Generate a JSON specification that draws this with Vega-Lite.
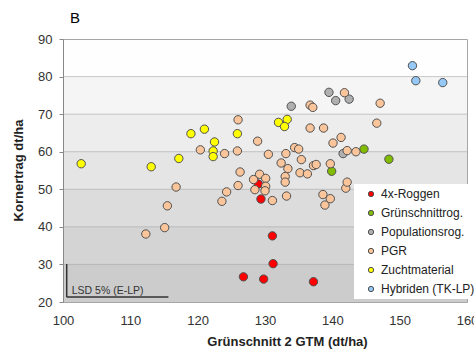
{
  "$schema": "https://vega.github.io/schema/vega-lite/v6.json",
  "width": 404,
  "height": 263,
  "autosize": {"type": "none"},
  "padding": {"left": 63, "top": 39, "right": 7, "bottom": 50},
  "title": {"text": "B", "anchor": "start", "frame": "group", "dx": 7, "offset": 7, "fontSize": 15, "fontWeight": "normal", "font": "Liberation Sans", "color": "#000000"},
  "config": {
    "font": "Liberation Sans",
    "view": {"stroke": "#a6a6a6", "fill": "#ffffff"}
  },
  "datasets": {
    "points": [
      {"gruppe": "4x-Roggen", "gtm": 126.8, "ertrag": 26.7},
      {"gruppe": "4x-Roggen", "gtm": 129.8, "ertrag": 26.1},
      {"gruppe": "4x-Roggen", "gtm": 137.2, "ertrag": 25.4},
      {"gruppe": "4x-Roggen", "gtm": 131.2, "ertrag": 30.2},
      {"gruppe": "4x-Roggen", "gtm": 131.1, "ertrag": 37.6},
      {"gruppe": "4x-Roggen", "gtm": 129.4, "ertrag": 47.4},
      {"gruppe": "4x-Roggen", "gtm": 129.0, "ertrag": 51.4},
      {"gruppe": "Grünschnittrog.", "gtm": 139.9, "ertrag": 54.8},
      {"gruppe": "Grünschnittrog.", "gtm": 144.7, "ertrag": 60.7},
      {"gruppe": "Grünschnittrog.", "gtm": 148.4, "ertrag": 58.0},
      {"gruppe": "Populationsrog.", "gtm": 139.5, "ertrag": 75.8},
      {"gruppe": "Populationsrog.", "gtm": 140.5, "ertrag": 73.6},
      {"gruppe": "Populationsrog.", "gtm": 142.5, "ertrag": 74.0},
      {"gruppe": "Populationsrog.", "gtm": 133.9, "ertrag": 72.1},
      {"gruppe": "Populationsrog.", "gtm": 141.6, "ertrag": 59.5},
      {"gruppe": "PGR", "gtm": 112.3, "ertrag": 38.1},
      {"gruppe": "PGR", "gtm": 115.1, "ertrag": 39.8},
      {"gruppe": "PGR", "gtm": 115.5, "ertrag": 45.6},
      {"gruppe": "PGR", "gtm": 116.8, "ertrag": 50.6},
      {"gruppe": "PGR", "gtm": 120.4, "ertrag": 60.5},
      {"gruppe": "PGR", "gtm": 123.6, "ertrag": 46.8},
      {"gruppe": "PGR", "gtm": 124.3, "ertrag": 49.3},
      {"gruppe": "PGR", "gtm": 124.0, "ertrag": 59.5},
      {"gruppe": "PGR", "gtm": 125.9, "ertrag": 60.2},
      {"gruppe": "PGR", "gtm": 126.0, "ertrag": 68.5},
      {"gruppe": "PGR", "gtm": 126.0, "ertrag": 51.0},
      {"gruppe": "PGR", "gtm": 126.3, "ertrag": 54.6},
      {"gruppe": "PGR", "gtm": 128.3, "ertrag": 52.6},
      {"gruppe": "PGR", "gtm": 128.5, "ertrag": 49.9},
      {"gruppe": "PGR", "gtm": 128.9, "ertrag": 62.8},
      {"gruppe": "PGR", "gtm": 129.2, "ertrag": 54.0},
      {"gruppe": "PGR", "gtm": 130.1, "ertrag": 52.9},
      {"gruppe": "PGR", "gtm": 130.1, "ertrag": 50.8},
      {"gruppe": "PGR", "gtm": 130.0, "ertrag": 49.6},
      {"gruppe": "PGR", "gtm": 130.5, "ertrag": 59.3},
      {"gruppe": "PGR", "gtm": 131.1, "ertrag": 47.0},
      {"gruppe": "PGR", "gtm": 132.4, "ertrag": 57.0},
      {"gruppe": "PGR", "gtm": 133.4, "ertrag": 55.5},
      {"gruppe": "PGR", "gtm": 133.0, "ertrag": 53.4},
      {"gruppe": "PGR", "gtm": 133.0, "ertrag": 51.9},
      {"gruppe": "PGR", "gtm": 133.2, "ertrag": 48.2},
      {"gruppe": "PGR", "gtm": 133.1, "ertrag": 59.5},
      {"gruppe": "PGR", "gtm": 134.4, "ertrag": 61.1},
      {"gruppe": "PGR", "gtm": 135.0, "ertrag": 60.7},
      {"gruppe": "PGR", "gtm": 135.4, "ertrag": 57.9},
      {"gruppe": "PGR", "gtm": 135.2, "ertrag": 54.4},
      {"gruppe": "PGR", "gtm": 136.3, "ertrag": 54.1},
      {"gruppe": "PGR", "gtm": 137.2, "ertrag": 56.3},
      {"gruppe": "PGR", "gtm": 137.6, "ertrag": 56.6},
      {"gruppe": "PGR", "gtm": 139.7, "ertrag": 56.8},
      {"gruppe": "PGR", "gtm": 138.6, "ertrag": 48.6},
      {"gruppe": "PGR", "gtm": 139.7, "ertrag": 47.5},
      {"gruppe": "PGR", "gtm": 138.9, "ertrag": 45.8},
      {"gruppe": "PGR", "gtm": 142.0, "ertrag": 50.3},
      {"gruppe": "PGR", "gtm": 142.2, "ertrag": 51.9},
      {"gruppe": "PGR", "gtm": 140.1, "ertrag": 62.3},
      {"gruppe": "PGR", "gtm": 141.3, "ertrag": 63.8},
      {"gruppe": "PGR", "gtm": 142.2, "ertrag": 60.3},
      {"gruppe": "PGR", "gtm": 143.5, "ertrag": 60.0},
      {"gruppe": "PGR", "gtm": 141.8, "ertrag": 75.7},
      {"gruppe": "PGR", "gtm": 136.7, "ertrag": 72.4},
      {"gruppe": "PGR", "gtm": 137.1, "ertrag": 71.8},
      {"gruppe": "PGR", "gtm": 147.1, "ertrag": 72.9},
      {"gruppe": "PGR", "gtm": 136.7, "ertrag": 66.3},
      {"gruppe": "PGR", "gtm": 138.7, "ertrag": 66.3},
      {"gruppe": "PGR", "gtm": 146.6, "ertrag": 67.6},
      {"gruppe": "Zuchtmaterial", "gtm": 102.7, "ertrag": 56.8},
      {"gruppe": "Zuchtmaterial", "gtm": 113.1, "ertrag": 56.0},
      {"gruppe": "Zuchtmaterial", "gtm": 117.2, "ertrag": 58.2},
      {"gruppe": "Zuchtmaterial", "gtm": 119.0, "ertrag": 64.8},
      {"gruppe": "Zuchtmaterial", "gtm": 121.0, "ertrag": 66.0},
      {"gruppe": "Zuchtmaterial", "gtm": 122.5, "ertrag": 62.6},
      {"gruppe": "Zuchtmaterial", "gtm": 122.3, "ertrag": 60.2},
      {"gruppe": "Zuchtmaterial", "gtm": 122.3, "ertrag": 58.7},
      {"gruppe": "Zuchtmaterial", "gtm": 125.9, "ertrag": 64.8},
      {"gruppe": "Zuchtmaterial", "gtm": 132.0, "ertrag": 67.8},
      {"gruppe": "Zuchtmaterial", "gtm": 133.3, "ertrag": 68.6},
      {"gruppe": "Zuchtmaterial", "gtm": 132.9, "ertrag": 66.7},
      {"gruppe": "Hybriden (TK-LP)", "gtm": 151.9, "ertrag": 82.9},
      {"gruppe": "Hybriden (TK-LP)", "gtm": 152.4, "ertrag": 78.9},
      {"gruppe": "Hybriden (TK-LP)", "gtm": 156.4, "ertrag": 78.4}
    ],
    "bands": [
      {"ertrag": 20, "ertrag2": 30},
      {"ertrag": 30, "ertrag2": 40},
      {"ertrag": 40, "ertrag2": 50},
      {"ertrag": 50, "ertrag2": 60},
      {"ertrag": 60, "ertrag2": 70},
      {"ertrag": 70, "ertrag2": 80},
      {"ertrag": 80, "ertrag2": 90}
    ],
    "grid": [
      {"ertrag": 30}, {"ertrag": 40}, {"ertrag": 50}, {"ertrag": 60}, {"ertrag": 70}, {"ertrag": 80}
    ],
    "lsd": [
      {"gtm": 100.55, "gtm2": 100.55, "ertrag": 21.3, "ertrag2": 30.1},
      {"gtm": 100.55, "gtm2": 115.65, "ertrag": 21.3, "ertrag2": 21.3}
    ],
    "lsdlabel": [
      {"gtm": 101.3, "ertrag": 22.2, "label": "LSD 5% (E-LP)"}
    ]
  },
  "encoding": {
    "x": {
      "field": "gtm", "type": "quantitative",
      "scale": {"domain": [100, 160], "nice": false, "zero": false},
      "axis": {"values": [100, 110, 120, 130, 140, 150, 160], "labelOverlap": false, "grid": false, "ticks": false, "domain": false, "labelPadding": 12, "labelFontSize": 13, "labelColor": "#333333", "labelFlush": false, "title": "Grünschnitt 2 GTM (dt/ha)", "titleFontSize": 13, "titleFontWeight": "bold", "titleColor": "#222222", "titleX": 224, "titleY": 33, "titleBaseline": "top", "titleAlign": "center"}
    },
    "y": {
      "field": "ertrag", "type": "quantitative",
      "scale": {"domain": [20, 90], "nice": false, "zero": false},
      "axis": {"values": [20, 30, 40, 50, 60, 70, 80, 90], "labelOverlap": false, "grid": false, "ticks": true, "tickSize": 4, "tickColor": "#888888", "domain": true, "domainColor": "#888888", "labelPadding": 7, "labelFontSize": 13, "labelColor": "#333333", "labelFlush": false, "title": "Kornertrag dt/ha", "titleFontSize": 13, "titleFontWeight": "bold", "titleColor": "#222222", "titleX": -45, "titleY": 131, "titleAngle": -90, "titleBaseline": "middle", "titleAlign": "center"}
    }
  },
  "layer": [
    {
      "data": {"name": "bands"},
      "mark": {"type": "rect", "color": "#8a8a8a"},
      "encoding": {
        "x": null,
        "y2": {"field": "ertrag2"},
        "opacity": {"field": "ertrag", "type": "quantitative", "scale": {"domain": [20, 80], "range": [0.44, 0.01]}, "legend": null}
      }
    },
    {
      "data": {"name": "grid"},
      "mark": {"type": "rule", "color": "#a0a0a0", "opacity": 0.55, "strokeWidth": 1},
      "encoding": {
        "x": null
      }
    },
    {
      "data": {"name": "lsd"},
      "mark": {"type": "rule", "color": "#333333", "strokeWidth": 1.5},
      "encoding": {
        "x2": {"field": "gtm2"},
        "y2": {"field": "ertrag2"}
      }
    },
    {
      "data": {"name": "points"},
      "mark": {"type": "circle", "size": 70, "opacity": 1, "stroke": "#505050", "strokeWidth": 1},
      "encoding": {
        "color": {
          "field": "gruppe", "type": "nominal",
          "scale": {
            "domain": ["4x-Roggen", "Grünschnittrog.", "Populationsrog.", "PGR", "Zuchtmaterial", "Hybriden (TK-LP)"],
            "range": ["#ff0000", "#82bc00", "#b0b0b0", "#fac59b", "#ffff00", "#95c8f5"]
          },
          "legend": {"orient": "none", "legendX": 291, "legendY": 145, "title": null, "fillColor": "#ffffff", "padding": 4, "symbolOffset": 7, "symbolType": "circle", "symbolSize": 28, "symbolStrokeColor": "#505050", "symbolStrokeWidth": 1, "labelFontSize": 12, "labelColor": "#222222", "labelOffset": 4, "rowPadding": 7}
        }
      }
    },
    {
      "data": {"name": "lsdlabel"},
      "mark": {"type": "text", "align": "left", "baseline": "alphabetic", "fontSize": 10.5, "color": "#333333"},
      "encoding": {
        "text": {"field": "label"}
      }
    }
  ]
}
